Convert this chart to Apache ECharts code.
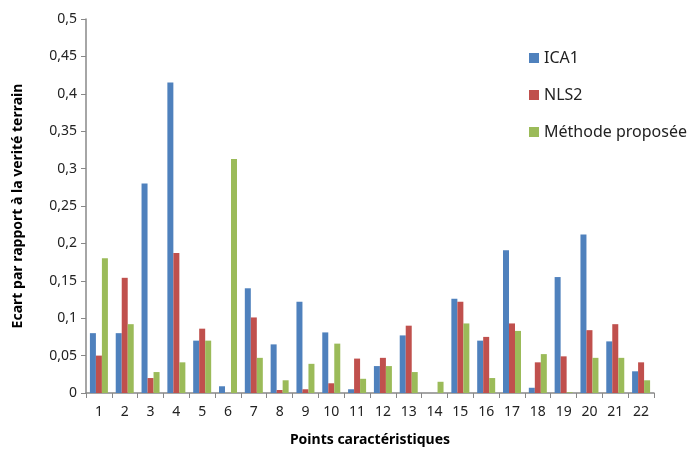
<!DOCTYPE html>
<html><head><meta charset="utf-8">
<script src="https://cdn.jsdelivr.net/npm/echarts@6/dist/echarts.min.js"></script>
<style>html,body{margin:0;padding:0;background:#fff}#c{width:692px;height:450px}</style>
</head><body><div id="c"></div>
<script>
const categories = ['1','2','3','4','5','6','7','8','9','10','11','12','13','14','15','16','17','18','19','20','21','22'];
const ica1 = [0.080,0.080,0.280,0.415,0.070,0.009,0.140,0.065,0.122,0.081,0.005,0.036,0.077,0,0.126,0.070,0.191,0.007,0.155,0.212,0.069,0.029];
const nls2 = [0.050,0.154,0.020,0.187,0.086,0,0.101,0.004,0.005,0.013,0.046,0.047,0.090,0,0.122,0.075,0.093,0.041,0.049,0.084,0.092,0.041];
const methode = [0.180,0.092,0.028,0.041,0.070,0.313,0.047,0.017,0.039,0.066,0.019,0.036,0.028,0.015,0.093,0.020,0.083,0.052,0.001,0.047,0.047,0.017];
const seriesNames = ['ICA1','NLS2','Méthode proposée'];
const colors = ['#4F81BD','#C0504D','#9BBB59'];

const font = '"Noto Sans", "Open Sans", sans-serif';
const chart = echarts.init(document.getElementById('c'));
const mk = (name, data, color) => ({
  name, type: 'bar', data, barWidth: 6, barGap: '0%',
  itemStyle: { color }, animation: false
});
chart.setOption({
  animation: false,
  textStyle: { fontFamily: font },
  grid: { left: 86, right: 38, top: 19, bottom: 57, outerBoundsMode: 'none', containLabel: false },
  legend: {
    orient: 'vertical', left: 524, top: 45, itemGap: 21,
    itemWidth: 10, itemHeight: 10, icon: 'rect',
    textStyle: { fontSize: 16, color: '#222', fontFamily: font },
    data: seriesNames
  },
  xAxis: {
    type: 'category', data: categories,
    name: 'Points caractéristiques', nameLocation: 'middle', nameGap: 40,
    nameTextStyle: { fontSize: 14, fontWeight: 'bold', color: '#000', fontFamily: font },
    axisLine: { lineStyle: { color: '#888', width: 1.5 } },
    axisTick: { show: true, length: 5, lineStyle: { color: '#888' }, alignWithLabel: false },
    axisLabel: { fontSize: 14, color: '#222', margin: 12, fontFamily: font },
    splitLine: { show: false }
  },
  yAxis: {
    type: 'value', min: 0, max: 0.5, interval: 0.05,
    name: 'Ecart par rapport à la verité terrain', nameLocation: 'middle', nameGap: 61,
    nameTextStyle: { fontSize: 14, fontWeight: 'bold', color: '#000', fontFamily: font },
    axisLine: { show: true, lineStyle: { color: '#888', width: 1.5 } },
    axisTick: { show: true, length: 5, lineStyle: { color: '#888' } },
    axisLabel: { fontSize: 14, color: '#222', margin: 9, fontFamily: font,
      formatter: v => String(Math.round(v * 100) / 100).replace('.', ',') },
    splitLine: { show: false }
  },
  series: [mk(seriesNames[0], ica1, colors[0]), mk(seriesNames[1], nls2, colors[1]), mk(seriesNames[2], methode, colors[2])]
});
</script></body></html>
